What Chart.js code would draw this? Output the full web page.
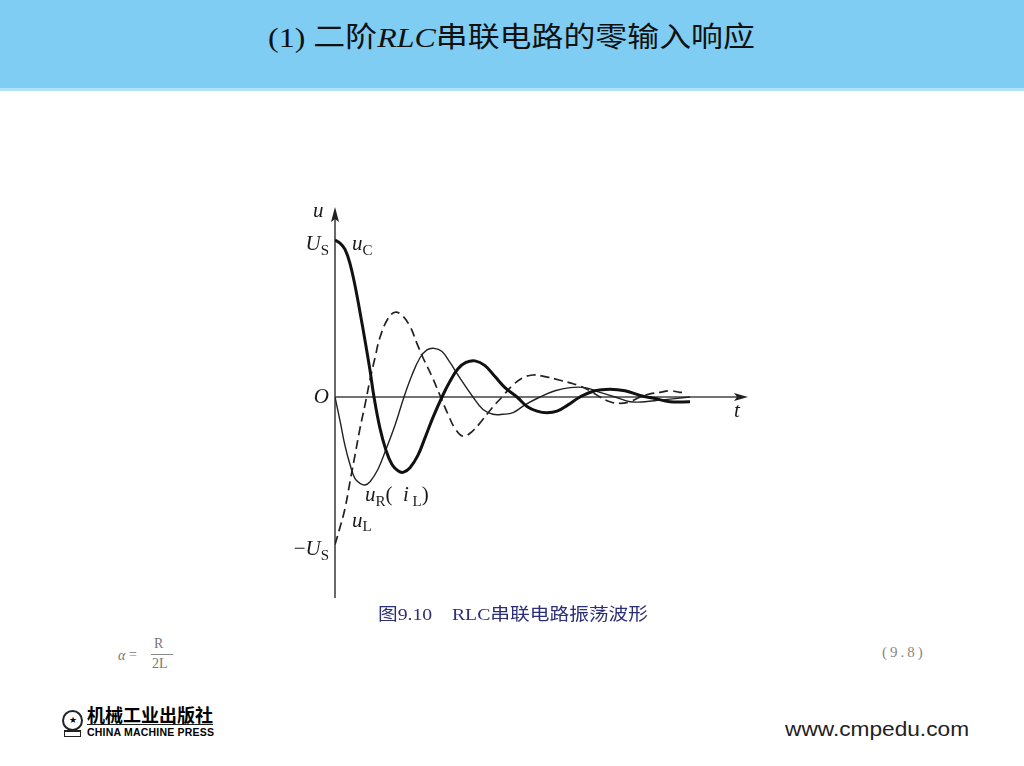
<!DOCTYPE html>
<html>
<head>
<meta charset="utf-8">
<script src="https://cdn.jsdelivr.net/npm/chart.js@4/dist/chart.umd.min.js"></script>
<style>
  body { margin: 0; width: 1024px; height: 766px; overflow: hidden; background: #fff; position: relative; }
  .header { position: absolute; left: 0; top: 0; width: 1024px; height: 88px; background: #7fcdf2; border-bottom: 3px solid #b3e1f6; }
  .title { position: absolute; left: 0; top: 15px; width: 1024px; text-align: center; font-size: 28px; color: #111; }
  .title span.in { display: inline-block; transform: scaleX(1.14); }
  .serif { font-family: "Liberation Serif", "DejaVu Serif", serif; }
  .cjk { font-family: "Noto Sans CJK SC", sans-serif; }
  #wrap { position: absolute; left: 280px; top: 195px; width: 500px; height: 415px; }
  .caption { position: absolute; left: 378px; top: 600px; font-size: 17px; color: #2b2f78; white-space: nowrap; transform: scaleX(1.16); transform-origin: left center; }
  .formula { position: absolute; left: 118px; top: 636px; color: #777; font-size: 14px; }
  .eqno { position: absolute; left: 882px; top: 644px; color: #888; font-size: 15px; letter-spacing: 3px; }
  .logo { position: absolute; left: 60px; top: 705px; }
  .url { position: absolute; left: 785px; top: 717px; font-family: "Liberation Sans", Arial, sans-serif; font-size: 21px; color: #222; transform: scaleX(1.08); transform-origin: left center; }
</style>
</head>
<body>
<div class="header">
  <div class="title"><span class="in"><span class="serif">(1) </span><span class="cjk">二阶</span><span class="serif"><i>RLC</i></span><span class="cjk">串联电路的零输入响应</span></span></div>
</div>

<div id="wrap"><canvas id="waveChart"></canvas></div>

<div class="caption"><span class="cjk">图</span><span class="serif">9.10&nbsp;&nbsp;&nbsp; RLC</span><span class="cjk">串联电路振荡波形</span></div>

<div class="formula serif">
  <span style="position:absolute;left:0;top:12px;font-style:italic;">α</span>
  <span style="position:absolute;left:11px;top:11px;">=</span>
  <span style="position:absolute;left:36px;top:0;">R</span>
  <span style="position:absolute;left:33px;top:18px;width:22px;border-top:1px solid #888;"></span>
  <span style="position:absolute;left:34px;top:20px;">2L</span>
</div>
<div class="eqno serif">(9.8)</div>

<div class="logo">
  <div style="position:absolute;left:2px;top:5px;width:17px;height:17px;border:2px solid #222;border-radius:50%;font-size:9px;line-height:17px;text-align:center;">★</div>
  <div style="position:absolute;left:4px;top:25px;width:15px;height:4px;border:1px solid #222;border-top:2px solid #222;"></div>
  <div class="cjk" style="position:absolute;left:27px;top:0;font-size:18px;font-weight:bold;white-space:nowrap;line-height:19px;border-bottom:1px solid #222;">机械工业出版社</div>
  <div style="position:absolute;left:27px;top:21px;font-family:'Liberation Sans',Arial,sans-serif;font-size:10.5px;font-weight:bold;white-space:nowrap;letter-spacing:0.2px;">CHINA MACHINE PRESS</div>
</div>

<div class="url">www.cmpedu.com</div>

<script>
// waveform data, t in arbitrary time units, voltages in units of U_S

const tC = [0, 0.5, 1, 1.5, 2, 2.5, 3, 3.5, 3.9, 4.5, 5.1, 5.7, 6.3, 6.8, 7.5, 8.3, 9, 9.8, 10.7, 11.5, 12.3, 13.1, 14, 15, 16, 17, 18.2, 19.2, 20.2, 21.2, 22.2, 23.3, 24.5, 26, 27.5, 29, 30.5, 32, 33.5, 35.5];
const uC = [1.00, 0.98, 0.94, 0.85, 0.71, 0.54, 0.36, 0.17, 0, -0.20, -0.34, -0.43, -0.47, -0.48, -0.45, -0.37, -0.26, -0.13, 0, 0.10, 0.18, 0.22, 0.23, 0.20, 0.13, 0.06, 0, -0.06, -0.09, -0.10, -0.09, -0.05, 0, 0.04, 0.05, 0.04, 0.01, -0.01, -0.03, -0.03];

const tR = [0, 0.5, 1, 1.5, 2, 2.5, 3, 3.5, 4.3, 5, 6, 6.9, 7.7, 8.5, 9.2, 9.9, 10.7, 11.5, 12.5, 13.8, 14.8, 15.8, 16.8, 17.8, 19, 20.5, 22, 23.5, 25, 26.5, 28, 29.5, 31, 32.5, 34, 35.5];
const uR = [0, -0.15, -0.31, -0.43, -0.52, -0.55, -0.56, -0.54, -0.46, -0.35, -0.18, 0, 0.14, 0.25, 0.30, 0.31, 0.29, 0.22, 0.12, 0, -0.08, -0.11, -0.11, -0.10, -0.05, 0, 0.04, 0.06, 0.06, 0.03, 0, -0.03, -0.03, -0.02, -0.01, 0];

const tL = [0, 0.5, 1, 1.5, 2, 2.5, 3, 3.5, 4, 4.5, 5.3, 6, 6.7, 7.5, 8.2, 8.8, 9.7, 10.5, 11.3, 12, 12.8, 13.7, 14.7, 15.7, 16.7, 17.7, 18.7, 19.8, 21, 22.3, 23.5, 24.5, 25.5, 26.5, 27.5, 28.5, 29.5, 30.5, 31.5, 32.5, 33.5, 34.5, 35.2];
const uL = [-0.94, -0.83, -0.71, -0.54, -0.37, -0.20, -0.05, 0.11, 0.25, 0.38, 0.50, 0.54, 0.52, 0.45, 0.34, 0.25, 0.13, 0.01, -0.11, -0.20, -0.25, -0.22, -0.15, -0.07, 0, 0.07, 0.12, 0.14, 0.13, 0.11, 0.09, 0.07, 0.04, 0, -0.03, -0.04, -0.03, 0, 0.02, 0.03, 0.04, 0.03, 0.03];

// y axis marks: value and label
const yTickValues = [1, 0, -0.94];
const yTickLabels = ['U|S', 'O', '−U|S'];

function toPoints(ts, vs) {
    return ts.map((t, i) => ({ x: t, y: vs[i] }));
}

const ITALIC = 'italic 21px "Liberation Serif", serif';
const UPRIGHT = '21px "Liberation Serif", serif';
const SUB = '15px "Liberation Serif", serif';

// draws a list of [text, font, dy] pieces, left or right aligned
function drawParts(ctx, parts, x, y, align) {
    let total = 0;
    parts.forEach(p => { ctx.font = p[1]; total += ctx.measureText(p[0]).width; });
    let cx = align === 'right' ? x - total : x;
    parts.forEach(p => {
        ctx.font = p[1];
        ctx.fillText(p[0], cx, y + (p[2] || 0));
        cx += ctx.measureText(p[0]).width;
    });
}

const axesPlugin = {
    id: 'axesPlugin',
    beforeDatasetsDraw(chart) {
        const ctx = chart.ctx;
        const xs = chart.scales.x, ys = chart.scales.y;
        const x0 = xs.getPixelForValue(0), y0 = ys.getPixelForValue(0);
        const xEnd = xs.right, yTop = ys.top, yBottom = ys.bottom;
        ctx.save();
        ctx.strokeStyle = '#444';
        ctx.fillStyle = '#222';
        ctx.lineWidth = 1.6;
        ctx.beginPath();
        ctx.moveTo(x0, y0); ctx.lineTo(xEnd - 8, y0);
        ctx.moveTo(x0, yBottom); ctx.lineTo(x0, yTop + 10);
        ctx.stroke();
        // arrow heads
        ctx.beginPath();
        ctx.moveTo(xEnd, y0); ctx.lineTo(xEnd - 14, y0 - 4); ctx.lineTo(xEnd - 11, y0); ctx.lineTo(xEnd - 14, y0 + 4);
        ctx.closePath(); ctx.fill();
        ctx.beginPath();
        ctx.moveTo(x0, yTop); ctx.lineTo(x0 - 4, yTop + 15); ctx.lineTo(x0, yTop + 12); ctx.lineTo(x0 + 4, yTop + 15);
        ctx.closePath(); ctx.fill();
        ctx.restore();
    },
    afterDatasetsDraw(chart) {
        const ctx = chart.ctx;
        const xs = chart.scales.x, ys = chart.scales.y;
        const x0 = xs.getPixelForValue(0);
        ctx.save();
        ctx.fillStyle = '#1a1a1a';
        ctx.textBaseline = 'middle';
        // y tick labels
        yTickValues.forEach((v, i) => {
            const py = ys.getPixelForValue(v) + (v === 0 ? 0 : 5);
            const [main, sub] = yTickLabels[i].split('|');
            const parts = [];
            if (main.startsWith('−')) {
                parts.push(['−', UPRIGHT]);
                parts.push([main.slice(1), ITALIC]);
            } else {
                parts.push([main, ITALIC]);
            }
            if (sub) parts.push([sub, SUB, 6]);
            drawParts(ctx, parts, x0 - 6, py, 'right');
        });
        // axis names
        drawParts(ctx, [['u', ITALIC]], x0 - 22, ys.top + 4, 'left');
        drawParts(ctx, [['t', ITALIC]], xs.right - 14, ys.getPixelForValue(0) + 14, 'left');
        // curve names
        drawParts(ctx, [['u', ITALIC], ['C', SUB, 6]], xs.getPixelForValue(1.7), ys.getPixelForValue(0.97), 'left');
        drawParts(ctx, [['u', ITALIC], ['R', SUB, 6], ['(  ', UPRIGHT], ['i', ITALIC], [' L', SUB, 6], [')', UPRIGHT]],
            xs.getPixelForValue(3.0), ys.getPixelForValue(-0.63), 'left');
        drawParts(ctx, [['u', ITALIC], ['L', SUB, 6]], xs.getPixelForValue(1.7), ys.getPixelForValue(-0.79), 'left');
        ctx.restore();
    }
};

const ctx = document.getElementById('waveChart').getContext('2d');
const waveChart = new Chart(ctx, {
    type: 'line',
    data: {
        datasets: [
            {
                label: 'uC',
                data: toPoints(tC, uC),
                borderColor: '#111',
                borderWidth: 3,
                pointRadius: 0,
                tension: 0.4
            },
            {
                label: 'uR',
                data: toPoints(tR, uR),
                borderColor: '#222',
                borderWidth: 1.4,
                pointRadius: 0,
                tension: 0.4
            },
            {
                label: 'uL',
                data: toPoints(tL, uL),
                borderColor: '#222',
                borderWidth: 1.7,
                borderDash: [9, 5],
                pointRadius: 0,
                tension: 0.4
            }
        ]
    },
    options: {
        responsive: true,
        maintainAspectRatio: false,
        animation: false,
        layout: { padding: { left: 55, top: 12, right: 32, bottom: 12 } },
        plugins: { legend: { display: false }, tooltip: { enabled: false } },
        scales: {
            x: { type: 'linear', min: 0, max: 41.3, display: false },
            y: { min: -1.28, max: 1.21, display: false }
        }
    },
    plugins: [axesPlugin]
});
</script>
</body>
</html>
